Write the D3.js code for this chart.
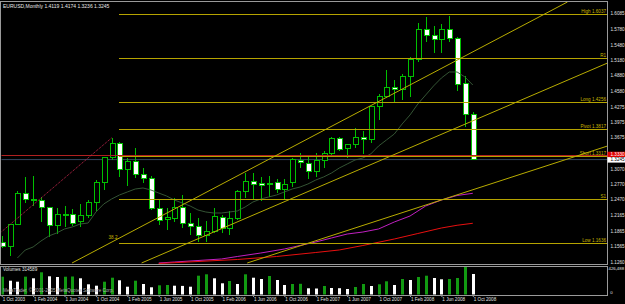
<!doctype html>
<html>
<head>
<meta charset="utf-8">
<script src="https://d3js.org/d3.v7.min.js"></script>
<style>
  body{margin:0;background:#000;}
  svg{display:block;background:#000;}
  text{font-family:'Liberation Sans',Arial,sans-serif;}
  .frame{stroke:#9a9a9a;stroke-width:1;fill:none;shape-rendering:crispEdges;}
  .wick{stroke:#00c000;stroke-width:1;shape-rendering:crispEdges;}
  .body{stroke:#00c000;stroke-width:1;shape-rendering:crispEdges;}
  .level{stroke:#b5a300;stroke-width:1;shape-rendering:crispEdges;}
  .levelTxt{fill:#c8b400;font-size:4.6px;text-anchor:end;}
  .trend{stroke:#b8ac00;stroke-width:1;fill:none;}
  .tick text{fill:#e0e0e0;font-size:4.6px;}
</style>
</head>
<body>
<svg id="chart" width="625" height="304"></svg>
<script>
// monthly EURUSD, Oct 2003 .. Oct 2008 (index 0..60)
var opens  = [1.1625,1.1550,1.1985,1.2590,1.2475,1.2455,1.2310,1.1960,1.2170,1.2170,
              1.2040,1.2160,1.2414,1.2804,1.3289,1.3562,1.3043,1.3204,1.2960,1.2870,
              1.2298,1.2084,1.2104,1.2317,1.1993,1.1954,1.1775,1.1843,1.2123,1.1909,
              1.2104,1.2621,1.2815,1.2784,1.2760,1.2804,1.2667,1.2796,1.3237,1.3174,
              1.3010,1.3218,1.3354,1.3659,1.3465,1.3529,1.3678,1.3626,1.4273,1.4467,
              1.4650,1.4611,1.4870,1.5195,1.5778,1.5648,1.5583,1.5778,1.5603,1.4715,1.4119];
var highs  = [1.1750,1.2000,1.2641,1.2898,1.2930,1.2520,1.2330,1.2298,1.2340,1.2285,
              1.2382,1.2450,1.2848,1.3300,1.3667,1.3580,1.3270,1.3470,1.3090,1.2935,
              1.2459,1.2300,1.2490,1.2560,1.2200,1.2100,1.2060,1.2298,1.2168,1.2250,
              1.2650,1.2978,1.2990,1.2912,1.2926,1.2862,1.2862,1.3280,1.3367,1.3301,
              1.3367,1.3418,1.3680,1.3680,1.3545,1.3850,1.3810,1.4280,1.4520,1.4987,
              1.4792,1.4900,1.5245,1.5905,1.6020,1.5850,1.5881,1.6037,1.5620,1.4870,1.4174];
var lows   = [1.1520,1.1380,1.1975,1.2398,1.2350,1.2040,1.1746,1.1800,1.1940,1.1945,
              1.1941,1.2110,1.2250,1.2654,1.3237,1.2901,1.2730,1.2880,1.2790,1.2265,
              1.1974,1.1880,1.2040,1.1910,1.1780,1.1640,1.1650,1.1812,1.1812,1.1770,
              1.2071,1.2500,1.2459,1.2446,1.2524,1.2590,1.2450,1.2720,1.3076,1.2862,
              1.2912,1.3076,1.3320,1.3410,1.3270,1.3480,1.3350,1.3562,1.4015,1.4436,
              1.4339,1.4400,1.4470,1.5145,1.5537,1.5311,1.5323,1.5530,1.4584,1.3885,1.3236];
var closes = [1.1550,1.1985,1.2590,1.2473,1.2450,1.2310,1.1960,1.2168,1.2180,1.2007,
              1.2160,1.2420,1.2796,1.3289,1.3562,1.3043,1.3204,1.2960,1.2870,1.2300,
              1.2070,1.2123,1.2317,1.2007,1.1954,1.1779,1.1843,1.2135,1.1896,1.2104,
              1.2621,1.2815,1.2770,1.2751,1.2780,1.2667,1.2765,1.3251,1.3198,1.3010,
              1.3224,1.3354,1.3659,1.3445,1.3542,1.3678,1.3626,1.4273,1.4467,1.4650,
              1.4598,1.4870,1.5195,1.5778,1.5653,1.5583,1.5778,1.5603,1.4709,1.4126,1.3245];
var volumes = [273100,211700,196400,274000,248500,340600,279200,268500,273100,276100,
               248500,156500,135000,196400,257700,217800,119700,211700,161100,110500,
               141100,145700,135000,131900,119700,288400,309900,248500,171800,207100,
               161100,309900,257700,237800,283800,222400,145700,161100,164100,95100,
               92000,130400,99700,96600,84400,115100,161100,130400,156500,202500,
               145700,237800,222400,268500,288400,253100,233200,237800,253100,426488,314589];

// indicator lines: [month index, price]
var maShort = [[2,1.1332],[3,1.1487],[4,1.1546],[5,1.1662],[6,1.1760],[7,1.1818],[8,1.1896],[9,1.1935],
  [10,1.1993],[11,1.2012],[12,1.2226],[13,1.2382],[14,1.2479],[15,1.2557],[16,1.2615],[17,1.2673],
  [18,1.2693],[19,1.2654],[20,1.2595],[21,1.2537],[22,1.2459],[23,1.2401],[24,1.2343],[25,1.2265],
  [26,1.2226],[27,1.2207],[28,1.2207],[29,1.2226],[30,1.2246],[31,1.2323],[32,1.2421],[33,1.2479],
  [34,1.2518],[35,1.2557],[36,1.2615],[37,1.2673],[38,1.2712],[39,1.2771],[40,1.2848],[41,1.2907],
  [42,1.2984],[43,1.3082],[44,1.3159],[45,1.3237],[46,1.3276],[47,1.3354],[48,1.3509],[49,1.3626],
  [50,1.3742],[51,1.3937],[52,1.4112],[53,1.4326],[54,1.4501],[55,1.4676],[56,1.4831],[57,1.4948],
  [58,1.4948],[59,1.4851],[60,1.4695]];
var maMid = [[20,1.1235],[22,1.1254],[25,1.1283],[28,1.1313],[30,1.1361],[33,1.1429],[36,1.1507],
  [38,1.1575],[40,1.1643],[42,1.1721],[44,1.1798],[46,1.1837],[48,1.1896],[50,1.2032],[52,1.2148],
  [54,1.2343],[56,1.2459],[58,1.2547],[60,1.2590]];
var maLong = [[20,1.1225],[25,1.1264],[30,1.1303],[35,1.1361],[40,1.1439],[43,1.1488],[46,1.1575],
  [50,1.1701],[53,1.1808],[56,1.1915],[58,1.1968],[60,1.2007]];

// drawn objects
var trendLines = [
  [[8.96,1.1235],[72.06,1.6309]],
  [[17.82,1.1235],[77.16,1.5123]],
  [[31.27,1.1235],[77.16,1.3509]]
];
var fanLine = [[-1,1.1715],[14,1.3667]];
var levelNames  = ['High 1.6037','R1','Long 1.4256','Pivot 1.3817','Short 1.3317','S1','Low 1.1636'];
var levelPrices = [1.6075,1.5214,1.4365,1.3840,1.3315,1.2473,1.1624];
var levelStart = 15;
var redLevel = 1.3330, redLabel = '1.3330';
var bid = 1.3245;

var priceTicks = [1.6085,1.5780,1.5480,1.5180,1.4880,1.4580,1.4275,1.3975,1.3675,
                  1.3070,1.2770,1.2470,1.2165,1.1865,1.1565,1.1260];
var timeIdx = [0,4,8,12,16,20,24,28,32,36,40,44,48,52,56,60];
var timeLabels = ['1 Oct 2003','1 Feb 2004','1 Jun 2004','1 Oct 2004','1 Feb 2005','1 Jun 2005',
  '1 Oct 2005','1 Feb 2006','1 Jun 2006','1 Oct 2006','1 Feb 2007','1 Jun 2007','1 Oct 2007',
  '1 Feb 2008','1 Jun 2008','1 Oct 2008'];
var volMax = 426488;

var svg = d3.select('#chart');
var axisX = 607.5;
var x = d3.scaleLinear().domain([0,60]).range([1.7,472.8]);
var y = d3.scaleLinear().domain([1.1260,1.6085]).range([261.7,13.5]);
var yv = d3.scaleLinear().domain([0,volMax]).range([294.5,266.7]);

svg.append('defs').append('clipPath').attr('id','mainClip')
  .append('rect').attr('x',1.5).attr('y',1.5).attr('width',axisX-1.5).attr('height',263);
svg.append('defs').append('clipPath').attr('id','volClip')
  .append('rect').attr('x',1.5).attr('y',266.5).attr('width',axisX-1.5).attr('height',29);

var main = svg.append('g').attr('clip-path','url(#mainClip)');

// bid line
main.append('line').attr('x1',0).attr('x2',axisX).attr('y1',y(bid)).attr('y2',y(bid))
  .style('stroke','#34465e').style('stroke-width',1);

// candles
var idx = d3.range(opens.length);
main.selectAll('line.wick').data(idx).enter().append('line').attr('class','wick')
  .attr('x1',(i)=>Math.round(x(i))+0.5).attr('x2',(i)=>Math.round(x(i))+0.5)
  .attr('y1',(i)=>y(highs[i])).attr('y2',(i)=>y(lows[i]));
main.selectAll('rect.body').data(idx).enter().append('rect').attr('class','body')
  .attr('x',(i)=>Math.round(x(i))-2+0.5).attr('width',5)
  .attr('y',(i)=>y(Math.max(opens[i],closes[i])))
  .attr('height',(i)=>Math.max(1,Math.abs(y(opens[i])-y(closes[i]))))
  .style('fill',(i)=>closes[i]>=opens[i]?'#000':'#fff');

// moving averages
var line = d3.line().x((d)=>x(d[0])).y((d)=>y(d[1]));
main.append('path').datum(maShort).attr('d',line)
  .style('fill','none').style('stroke','#3a5e3a').style('stroke-width',0.9);
main.append('path').datum(maMid).attr('d',line)
  .style('fill','none').style('stroke','#c020c0').style('stroke-width',1);
main.append('path').datum(maLong).attr('d',line)
  .style('fill','none').style('stroke','#e81010').style('stroke-width',1);

// horizontal levels
main.selectAll('line.level').data(levelPrices).enter().append('line').attr('class','level')
  .attr('x1',x(levelStart)).attr('x2',axisX)
  .attr('y1',(d)=>Math.round(y(d))+0.5).attr('y2',(d)=>Math.round(y(d))+0.5);
main.selectAll('text.levelTxt').data(levelPrices).enter().append('text').attr('class','levelTxt')
  .attr('x',axisX-1.5).attr('y',(d)=>Math.round(y(d))-1)
  .text((d,i)=>levelNames[i]);
main.append('text').attr('class','levelTxt')
  .attr('x',x(levelStart)-2).attr('y',y(levelPrices[6])-4).text('38.2');

main.append('line').attr('x1',0).attr('x2',axisX).attr('y1',y(redLevel)).attr('y2',y(redLevel))
  .style('stroke','#b02020').style('stroke-width',1).style('shape-rendering','crispEdges');

// trend lines
main.selectAll('path.trend').data(trendLines).enter().append('path').attr('class','trend')
  .attr('d',line);
main.append('path').datum(fanLine).attr('d',line)
  .style('fill','none').style('stroke','#c8284e').style('stroke-width',1)
  .style('stroke-dasharray','1,1');

// volumes
var vol = svg.append('g').attr('clip-path','url(#volClip)');
vol.selectAll('rect.vol').data(idx).enter().append('rect').attr('class','vol')
  .attr('x',(i)=>Math.round(x(i))-1).attr('width',3)
  .attr('y',(i)=>yv(volumes[i])).attr('height',(i)=>yv(0)-yv(volumes[i]))
  .style('fill',(i)=>(i===0||volumes[i]>volumes[i-1])?'#129a12':'#ffffff');

// frames
svg.append('rect').attr('class','frame').attr('x',0.5).attr('y',1.5).attr('width',axisX-0.5).attr('height',263);
svg.append('rect').attr('class','frame').attr('x',0.5).attr('y',266.5).attr('width',axisX-0.5).attr('height',29);

// price axis
var yAxis = d3.axisRight(y).tickValues(priceTicks).tickSize(0).tickPadding(3)
  .tickFormat(d3.format('.4f'));
svg.append('g').attr('transform','translate('+axisX+',0)').call(yAxis)
  .call((g)=>g.select('.domain').remove());

// red and bid labels on the axis
svg.append('rect').attr('x',axisX).attr('y',y(redLevel)-3.5).attr('width',625-axisX).attr('height',5.5)
  .style('fill','#e00000');
svg.append('text').attr('x',axisX+3).attr('y',y(redLevel)+1.2).text(redLabel)
  .style('fill','#fff').style('font-size','4.6px');
svg.append('rect').attr('x',axisX).attr('y',y(bid)-2.5).attr('width',625-axisX).attr('height',5.5)
  .style('fill','#fff');
svg.append('text').attr('x',axisX+3).attr('y',y(bid)+1.8).text(d3.format('.4f')(bid))
  .style('fill','#000').style('font-size','4.6px');

// volume axis
var vAxis = d3.axisRight(yv).tickValues([0,volMax]).tickSize(0).tickPadding(1);
svg.append('g').attr('transform','translate('+axisX+',0)').call(vAxis)
  .call((g)=>g.select('.domain').remove())
  .call((g)=>g.selectAll('text').style('font-size','4.3px')
    .attr('dx',(d)=>d===0?'0.4em':'0')
    .attr('dy',(d)=>d===0?'-0.2em':'0.7em'));

// time axis
var xAxis = d3.axisBottom(x).tickValues(timeIdx).tickSize(1.5).tickPadding(0.5)
  .tickFormat((d,i)=>timeLabels[i]);
svg.append('g').attr('transform','translate(0,295.5)').call(xAxis)
  .call((g)=>g.select('.domain').remove())
  .call((g)=>g.selectAll('line').style('stroke','#9a9a9a'))
  .call((g)=>g.selectAll('text').attr('text-anchor','start').attr('dx','0.1em'));

// titles
svg.append('text').attr('x',3).attr('y',7.5)
  .text('EURUSD,Monthly  1.4119 1.4174 1.3236 1.3245')
  .style('fill','#e8e8e8').style('font-size','5px');
svg.append('text').attr('x',3).attr('y',271)
  .text('Volumes ' + volumes[volumes.length-1])
  .style('fill','#e0e0e0').style('font-size','4.6px');
svg.append('text').attr('x',3).attr('y',292)
  .text('MetaTrader, \u00a9 2001-2005 MetaQuotes Software Corp.')
  .style('fill','#b0b0b0').style('font-size','4.6px');
</script>
</body>
</html>
